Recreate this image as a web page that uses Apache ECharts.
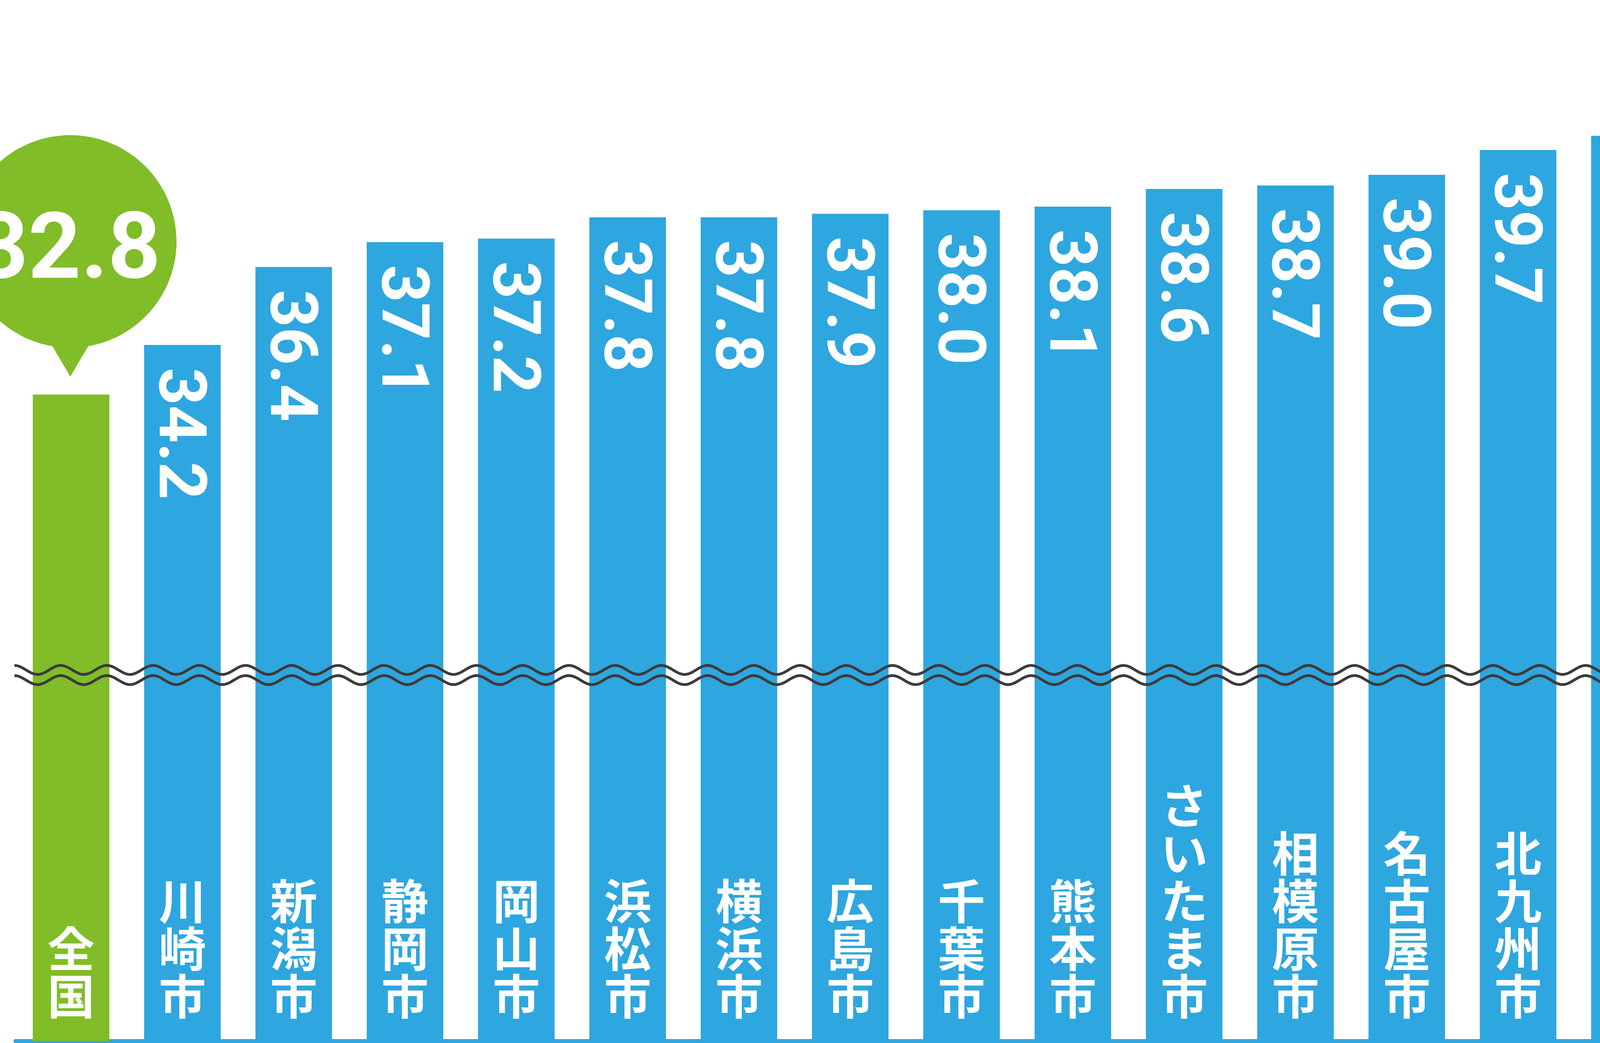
<!DOCTYPE html>
<html>
<head>
<meta charset="utf-8">
<script src="https://cdn.jsdelivr.net/npm/echarts@6/dist/echarts.min.js"></script>
<style>
html,body{margin:0;padding:0;background:#ffffff;}
#c{width:6065px;height:2670px;}
</style>
</head>
<body>
<div id="c"></div>
<script>
// ---- data ----
const categories = ['全国','川崎市','新潟市','静岡市','岡山市','浜松市','横浜市','広島市','千葉市','熊本市','さいたま市','相模原市','名古屋市','北九州市','神戸市','大阪市','仙台市','堺市','札幌市','福岡市','京都市'];
const values = [32.8,34.2,36.4,37.1,37.2,37.8,37.8,37.9,38.0,38.1,38.6,38.7,39.0,39.7,40.1,40.2,40.8,41.3,41.7,42.0,43.7];
const nationalIndex = 0;
const highlightIndex = 20;

// ---- styles ----
const BLUE = '#2ea6df';
const GREEN = '#80bd28';
const RED = '#e60012';
const WAVE = '#3e3a39';

function barColor(i){
  if (i === nationalIndex) return GREEN;
  if (i === highlightIndex) return RED;
  return BLUE;
}

const chart = echarts.init(document.getElementById('c'), null, {renderer:'canvas'});

// speech bubble (circle + tail) path
const k = 150.2;
const bubblePath = 'path://M 272 0 C 272 ' + k + ' ' + k + ' 272 0 272 C -' + k + ' 272 -272 ' + k + ' -272 0 C -272 -' + k + ' -' + k + ' -272 0 -272 C ' + k + ' -272 272 -' + k + ' 272 0 Z M 53.7 255 L 0 346 L -53.7 255 Z';

// wavy break lines (decoration)
function wavePoints(cy){
  const pts = [];
  const x0 = 37, x1 = 6017, period = 118.3, amp = 11.5;
  for (let x = x0; x <= x1; x += 3){
    pts.push([x, cy - amp * Math.cos(2 * Math.PI * (x - x0) / period)]);
  }
  return pts;
}

const valueData = values.map((v, i) => ({
  value: v,
  itemStyle: {color: barColor(i)}
}));

const nameData = values.map((v, i) => {
  const item = {value: v};
  if (i === highlightIndex){
    item.label = {fontSize: 162, lineHeight: 162, fontWeight: 900};
  }
  return item;
});

const option = {
  animation: false,
  backgroundColor: '#ffffff',
  grid: {left: 39.5, right: 41.5, top: 0, bottom: 5, outerBoundsMode: 'none'},
  xAxis: {
    type: 'category',
    data: categories,
    axisLine: {show: true, lineStyle: {color: BLUE, width: 10}},
    axisTick: {show: false},
    axisLabel: {show: false},
    splitLine: {show: false}
  },
  yAxis: {
    type: 'value',
    min: 14.565,
    max: 43.93,
    show: false,
    splitLine: {show: false}
  },
  series: [
    {
      type: 'bar',
      data: valueData,
      barWidth: 196,
      barGap: '-100%',
      z: 2,
      label: {
        show: true,
        position: 'insideTop',
        distance: 58,
        rotate: -90,
        align: 'left',
        verticalAlign: 'middle',
        offset: [0, 16],
        color: '#ffffff',
        fontFamily: 'Roboto',
        fontWeight: 'bold',
        fontSize: 168,
        formatter: function(p){
          if (p.dataIndex === nationalIndex || p.dataIndex === highlightIndex) return '';
          return Number(p.value).toFixed(1);
        }
      },
      markPoint: {
        symbol: bubblePath,
        symbolSize: [544, 618],
        symbolOffset: [-2, -355],
        symbolKeepAspect: false,
        itemStyle: {color: GREEN},
        label: {
          show: true,
          position: 'inside',
          offset: [-6, -3],
          color: '#ffffff',
          fontFamily: 'Roboto',
          fontWeight: 'bold',
          fontSize: 236,
          formatter: function(p){ return Number(p.value).toFixed(1); }
        },
        data: [{coord: [categories[nationalIndex], values[nationalIndex]], value: values[nationalIndex]}]
      }
    },
    {
      type: 'bar',
      data: nameData,
      barWidth: 196,
      barGap: '-100%',
      z: 3,
      silent: true,
      itemStyle: {color: 'rgba(0,0,0,0)'},
      label: {
        show: true,
        position: 'insideBottom',
        distance: 54,
        color: '#ffffff',
        fontFamily: '"Noto Sans CJK JP"',
        fontWeight: 'bold',
        fontSize: 121,
        lineHeight: 122,
        align: 'center',
        formatter: function(p){ return p.name.split('').join('\n'); }
      }
    }
  ],
  graphic: [
    {type: 'polyline', z: 100, silent: true, shape: {points: wavePoints(1715)}, style: {stroke: WAVE, lineWidth: 7, fill: null}},
    {type: 'polyline', z: 100, silent: true, shape: {points: wavePoints(1741)}, style: {stroke: WAVE, lineWidth: 7, fill: null}}
  ]
};

chart.setOption(option);
</script>
</body>
</html>
